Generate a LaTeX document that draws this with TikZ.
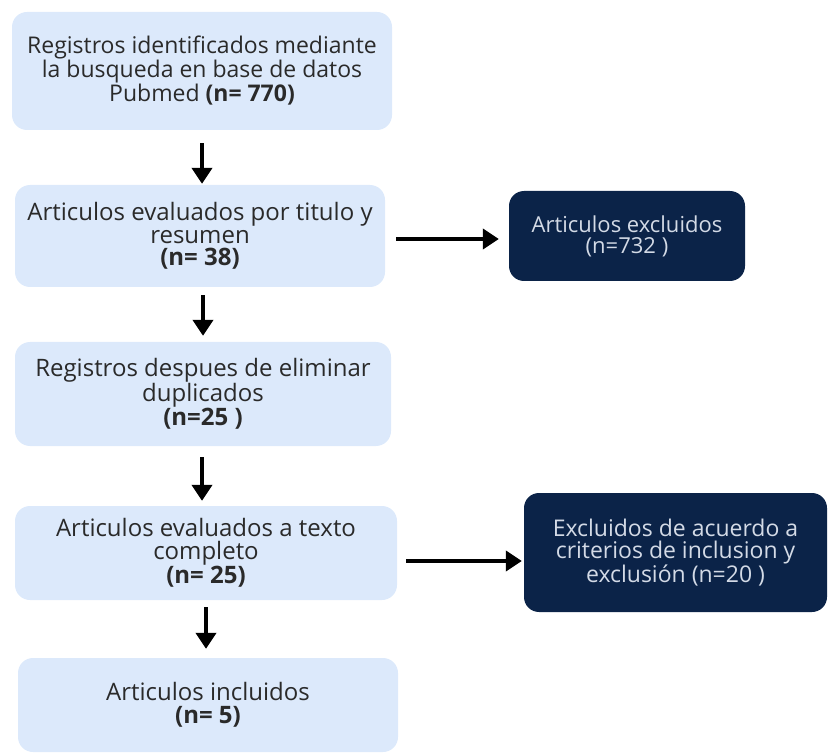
\documentclass[tikz,border=0pt]{standalone}
\usepackage{fontspec}
\setmainfont{Open Sans}
\usetikzlibrary{arrows.meta}
\definecolor{lightbox}{HTML}{DCE9FB}
\definecolor{darkbox}{HTML}{0B2348}
\definecolor{lighttext}{HTML}{2A2A2A}
\definecolor{darktext}{HTML}{D3DAE6}
\tikzset{
  lbox/.style={rectangle, rounded corners=15pt, fill=lightbox, draw=none, text=lighttext, align=center, inner sep=0pt},
  dbox/.style={rectangle, rounded corners=15pt, fill=darkbox, draw=none, text=darktext, align=center, inner sep=0pt},
  arr/.style={line width=4.5pt, draw=black, -{Triangle[width=20pt,length=16pt]}},
  big/.style={font=\fontsize{24}{22.5}\selectfont},
  mid/.style={font=\fontsize{23}{22}\selectfont},
  small/.style={font=\fontsize{22}{21}\selectfont},
  rbig/.style={font=\fontsize{23}{22}\selectfont}
}
\begin{document}
\begin{tikzpicture}[x=1pt,y=-1pt]
\useasboundingbox (0,0) rectangle (828,754);
\node[lbox, mid, minimum width=380pt, minimum height=118pt] (b1) at (202,71)
  {Registros identificados mediante\\la busqueda en base de datos\\Pubmed \textbf{(n= 770)}};
\node[lbox, big, minimum width=370pt, minimum height=102pt] (b2) at (200,236)
  {Articulos evaluados por titulo y\\resumen\\\textbf{(n= 38)}};
\node[lbox, big, minimum width=376pt, minimum height=104pt] (b3) at (203,394)
  {Registros despues de eliminar\\duplicados\\\textbf{(n=25 )}};
\node[lbox, big, minimum width=382pt, minimum height=94pt] (b4) at (206,553)
  {Articulos evaluados a texto\\completo\\\textbf{(n= 25)}};
\node[lbox, big, minimum width=380pt, minimum height=94pt] (b5) at (208,705)
  {Articulos incluidos\\\textbf{(n= 5)}};
\node[dbox, small, minimum width=236pt, minimum height=90pt] (r1) at (627,236)
  {Articulos excluidos\\(n=732 )};
\node[dbox, rbig, minimum width=303pt, minimum height=119pt] (r2) at (675.5,552.5)
  {Excluidos de acuerdo a\\criterios de inclusion y\\exclusión (n=20 )};
\draw[arr, shorten <=13pt, shorten >=1pt] (b1.south) -- (b1.south |- b2.north);
\draw[arr, shorten <=8pt, shorten >=6pt] ([xshift=3pt]b2.south) -- ([xshift=3pt]b2.south |- b3.north);
\draw[arr, shorten <=11pt, shorten >=5pt] ([xshift=-1pt]b3.south) -- ([xshift=-1pt]b3.south |- b4.north);
\draw[arr, shorten <=7pt, shorten >=9pt] (b4.south) -- (b4.south |- b5.north);
\draw[arr, shorten <=11pt, shorten >=10pt] ([yshift=-3pt]b2.east) -- ([yshift=-3pt]b2.east -| r1.west);
\draw[arr, shorten <=9pt, shorten >=2pt] ([yshift=-8pt]b4.east) -- ([yshift=-8pt]b4.east -| r2.west);
\end{tikzpicture}
\end{document}
